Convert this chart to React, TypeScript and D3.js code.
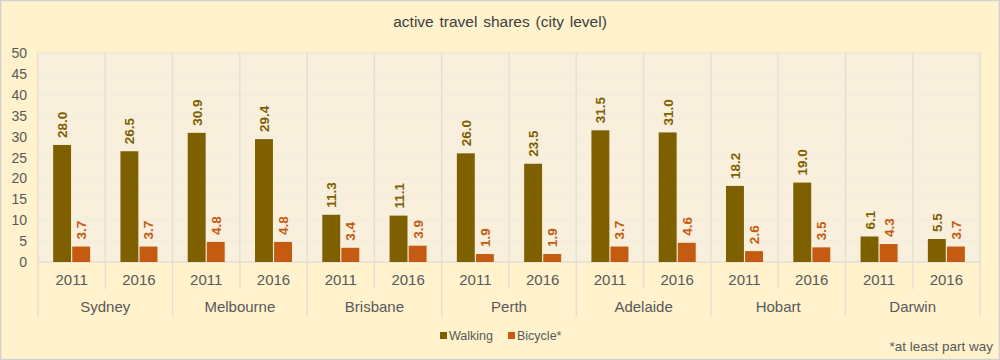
import React from "react";
import * as d3 from "d3";

const cities = ["Sydney", "Melbourne", "Brisbane", "Perth", "Adelaide", "Hobart", "Darwin"];
const years = ["2011", "2016"];
const walking = [28.0, 26.5, 30.9, 29.4, 11.3, 11.1, 26.0, 23.5, 31.5, 31.0, 18.2, 19.0, 6.1, 5.5];
const bicycle = [3.7, 3.7, 4.8, 4.8, 3.4, 3.9, 1.9, 1.9, 3.7, 4.6, 2.6, 3.5, 4.3, 3.7];
const yTicks = [0, 5, 10, 15, 20, 25, 30, 35, 40, 45, 50];
const seriesNames = ["Walking", "Bicycle*"];
const colors = ["#7F6000", "#C55A11"];

export default function App() {
  const W = 1000, H = 360;
  const left = 38, right = 980, top = 53, bottom = 262;
  const cells = cities.flatMap((c) => years.map((y) => `${c}|${y}`));
  const x = d3.scaleBand().domain(cells).range([left, right]).padding(0);
  const y = d3.scaleLinear().domain([0, 50]).range([bottom, top]);
  const inner = d3.scaleBand().domain(["w", "b"]).range([0, 37]).paddingInner(0.06);
  const off = (x.bandwidth() - 37) / 2;
  const font = "'Liberation Sans', Arial, sans-serif";
  const cellW = x.bandwidth();

  return (
    <svg width={W} height={H} style={{ position: "absolute", left: 0, top: 0 }} fontFamily={font}>
      <rect x={0.5} y={0.5} width={W - 1} height={H - 1} fill="#FFF2CC" stroke="#D0D0D0" strokeWidth={1.5} />
      <text x={500} y={27} textAnchor="middle" fontSize={15.5} fill="#404040" wordSpacing={1.5}>active travel shares (city level)</text>
      <rect x={left} y={top} width={right - left} height={bottom - top} fill="#F8F0DD" stroke="#E6E0D4" strokeWidth={1} />
      {yTicks.map((t) => (
        <line key={"h" + t} x1={left} x2={right} y1={y(t)} y2={y(t)} stroke="#F2EBDA" strokeWidth={0.8} />
      ))}
      {cells.map((c, i) => {
        const isGroup = i % 2 === 0;
        const xx = x(c)!;
        return (
          <line key={"v" + c} x1={xx} x2={xx} y1={top} y2={isGroup ? 317 : 289} stroke="#E6E0D4" strokeWidth={1.5} />
        );
      })}
      <line x1={right} x2={right} y1={top} y2={317} stroke="#E6E0D4" strokeWidth={1.5} />
      <line x1={left} x2={right} y1={bottom} y2={bottom} stroke="#E6E0D4" strokeWidth={1.5} />
      {yTicks.map((t) => (
        <text key={"yt" + t} x={27} y={y(t) + 5} textAnchor="end" fontSize={14} fill="#595959">{t}</text>
      ))}
      {cells.map((c, i) => {
        const xx = x(c)! + off;
        const vals = [walking[i], bicycle[i]];
        return (
          <g key={"b" + c}>
            {vals.map((v, k) => {
              const bx = xx + inner(k === 0 ? "w" : "b")!;
              const bw = inner.bandwidth();
              const cx = bx + bw / 2;
              const ty = y(v) - 7;
              return (
                <g key={k}>
                  <rect x={bx} y={y(v)} width={bw} height={bottom - y(v)} fill={colors[k]} />
                  <text transform={`translate(${cx + 5},${ty}) rotate(-90)`} fontSize={13.5} fontWeight="bold" fill={colors[k]}>{v.toFixed(1)}</text>
                </g>
              );
            })}
            <text x={x(c)! + cellW / 2} y={285} textAnchor="middle" fontSize={15} fill="#595959">{c.split("|")[1]}</text>
          </g>
        );
      })}
      {cities.map((city) => (
        <text key={"c" + city} x={x(`${city}|2011`)! + cellW} y={312} textAnchor="middle" fontSize={15} fill="#595959">{city}</text>
      ))}
      <g>
        <rect x={440} y={332} width={7} height={7} fill={colors[0]} />
        <text x={449} y={340} fontSize={12.5} fill="#595959">{seriesNames[0]}</text>
        <rect x={508} y={332} width={7} height={7} fill={colors[1]} />
        <text x={517} y={340} fontSize={12.5} fill="#595959">{seriesNames[1]}</text>
      </g>
      <text x={993} y={351} textAnchor="end" fontSize={13.5} fill="#595959">*at least part way</text>
    </svg>
  );
}
